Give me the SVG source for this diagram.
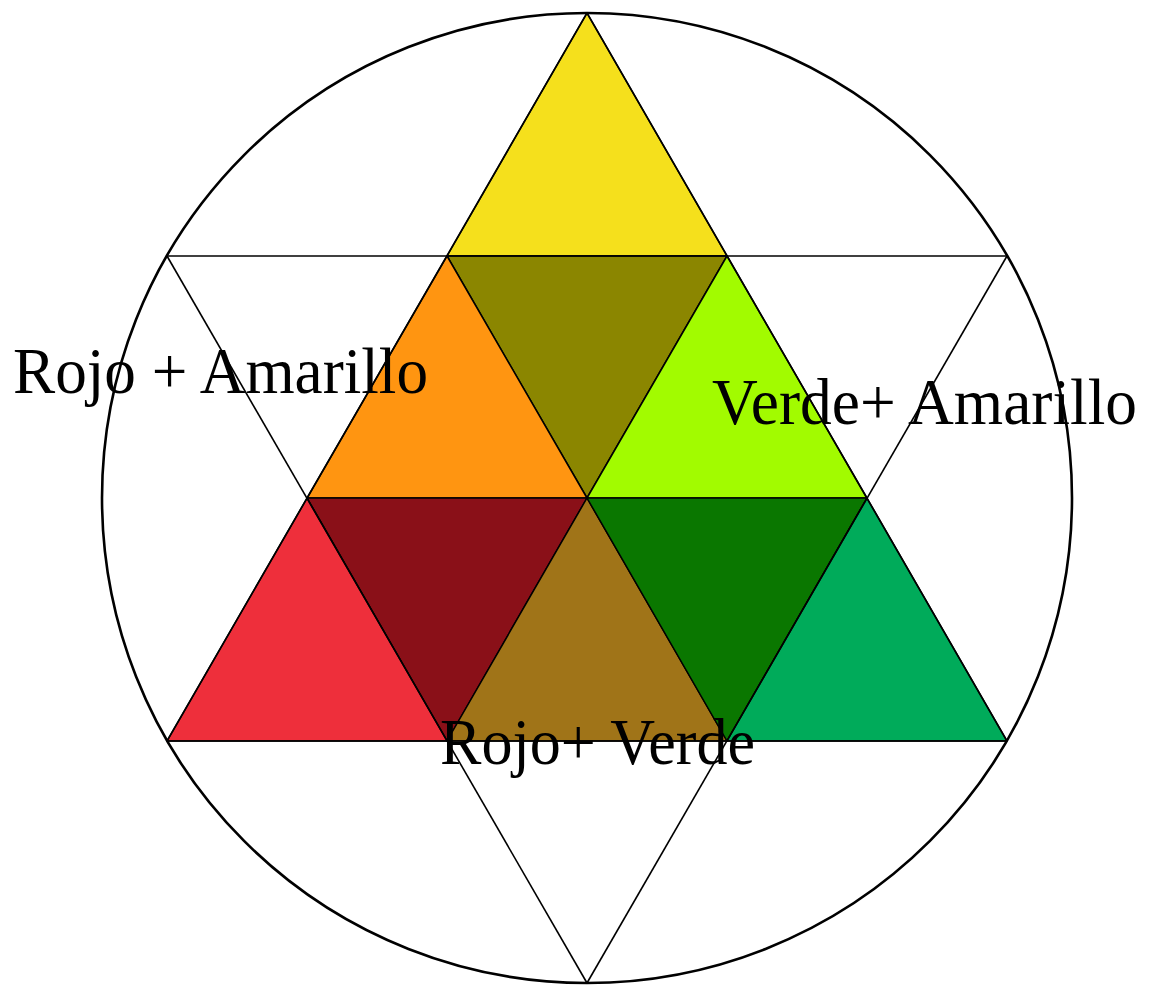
<svg xmlns="http://www.w3.org/2000/svg" width="1149" height="989" viewBox="0 0 1149 989">
<style>
.t{stroke:#000;stroke-width:1.5;stroke-linejoin:round}
.l{stroke:#000;stroke-width:1.6;fill:none}
.lbl{font-family:"Liberation Serif","Times New Roman",serif;font-size:66px;fill:#000}
</style>
<rect width="1149" height="989" fill="#fff"/>
<g id="circle"><circle cx="587" cy="498" r="485" fill="none" stroke="#000" stroke-width="2.6"/></g>
<g id="triangles">
<polygon id="yellow" class="t" fill="#F5E01C" points="587,13 447,256 727,256"/>
<polygon id="olive" class="t" fill="#8B8600" points="447,256 727,256 587,498"/>
<polygon id="orange" class="t" fill="#FF9511" points="447,256 307,498 587,498"/>
<polygon id="lime" class="t" fill="#A2FB00" points="727,256 587,498 867,498"/>
<polygon id="darkred" class="t" fill="#8A1018" points="307,498 587,498 447,741"/>
<polygon id="red" class="t" fill="#EE2F3B" points="307,498 167,741 447,741"/>
<polygon id="brown" class="t" fill="#A07418" points="587,498 447,741 727,741"/>
<polygon id="darkgreen" class="t" fill="#0A7700" points="587,498 867,498 727,741"/>
<polygon id="green" class="t" fill="#00AB5A" points="867,498 727,741 1007,741"/>
</g>
<g id="connectors">
<line class="l" x1="167" y1="256" x2="1007" y2="256"/>
<line class="l" x1="167" y1="741" x2="1007" y2="741"/>
<line class="l" x1="167" y1="256" x2="587" y2="983"/>
<line class="l" x1="1007" y1="256" x2="587" y2="983"/>
<line class="l" x1="587" y1="13" x2="167" y2="741"/>
<line class="l" x1="587" y1="13" x2="1007" y2="741"/>
</g>
<g id="labels">
<text class="lbl" x="13" y="393" textLength="415" lengthAdjust="spacingAndGlyphs">Rojo + Amarillo</text>
<text class="lbl" x="712" y="424" textLength="425" lengthAdjust="spacingAndGlyphs">Verde+ Amarillo</text>
<text class="lbl" x="440" y="764" textLength="315" lengthAdjust="spacingAndGlyphs">Rojo+ Verde</text>
</g>
</svg>
